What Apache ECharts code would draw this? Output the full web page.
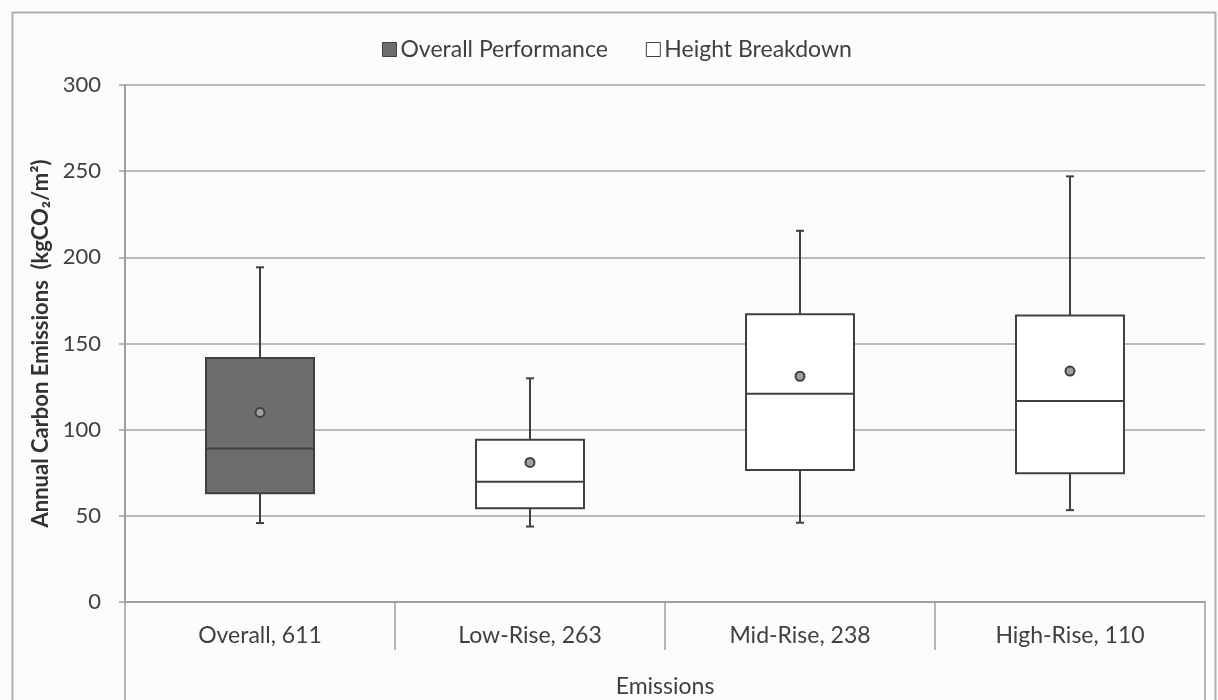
<!DOCTYPE html>
<html>
<head>
<meta charset="utf-8">
<script src="https://cdn.jsdelivr.net/npm/echarts@6/dist/echarts.min.js"></script>
<style>
  html, body { margin: 0; padding: 0; background: #fcfcfc; }
  #main { width: 1218px; height: 700px; }
</style>
</head>
<body>
<div id="main"></div>
<script>
// categories and box statistics: [min, Q1, median, Q3, max]
const categories = ["Overall, 611", "Low-Rise, 263", "Mid-Rise, 238", "High-Rise, 110"];
const overallBox = [[0, 45.8, 63.1, 89, 141.6, 194.2]];
const heightBox = [
  [1, 43.8, 54.4, 69.8, 94.2, 129.8],
  [2, 46, 76.6, 120.8, 167, 215.4],
  [3, 53.3, 74.7, 116.6, 166.2, 247]
];
const means = [110, 81, 131, 134];
const yTicks = [0, 50, 100, 150, 200, 250, 300];

const font = "Lato";
const ink = "#404040";

var chart = echarts.init(document.getElementById("main"));

// draws box, median, whiskers and short caps through the axis scales
function renderBox(params, api) {
  var x = api.value(0);
  var lo = api.coord([x, api.value(1)]);
  var q1 = api.coord([x, api.value(2)]);
  var med = api.coord([x, api.value(3)]);
  var q3 = api.coord([x, api.value(4)]);
  var hi = api.coord([x, api.value(5)]);
  var w = api.size([1, 0])[0] * 0.4;
  var cx = lo[0];
  var cap = 4;
  var fill = params.seriesIndex === 0 ? "#6d6d6d" : "#ffffff";
  var line = { stroke: ink, lineWidth: 2 };
  return {
    type: "group",
    children: [
      { type: "line", shape: { x1: cx, y1: q3[1], x2: cx, y2: hi[1] }, style: line },
      { type: "line", shape: { x1: cx, y1: q1[1], x2: cx, y2: lo[1] }, style: line },
      { type: "line", shape: { x1: cx - cap, y1: hi[1], x2: cx + cap, y2: hi[1] }, style: line },
      { type: "line", shape: { x1: cx - cap, y1: lo[1], x2: cx + cap, y2: lo[1] }, style: line },
      { type: "rect", shape: { x: cx - w / 2, y: q3[1], width: w, height: q1[1] - q3[1] },
        style: { fill: fill, stroke: ink, lineWidth: 2 } },
      { type: "line", shape: { x1: cx - w / 2, y1: med[1], x2: cx + w / 2, y2: med[1] }, style: line }
    ]
  };
}

var option = {
  backgroundColor: "#fcfcfc",
  animation: false,
  textStyle: { fontFamily: font },
  graphic: [
    { type: "rect", left: 10, top: 10, shape: { width: 1203, height: 720 },
      style: { fill: null, stroke: "#b0b0b0", lineWidth: 2 }, silent: true }
  ],
  legend: {
    left: 377,
    top: 33,
    itemWidth: 14,
    itemHeight: 14,
    itemGap: 38,
    textStyle: { fontFamily: font, fontSize: 23, color: ink, padding: [0, 0, 0, -1] },
    data: [
      { name: "Overall Performance", icon: "rect",
        itemStyle: { color: "#6d6d6d", borderColor: ink, borderWidth: 1 } },
      { name: "Height Breakdown", icon: "rect",
        itemStyle: { color: "#ffffff", borderColor: ink, borderWidth: 1 } }
    ]
  },
  grid: { left: 125, right: 13, top: 85, bottom: 98 },
  xAxis: [
    {
      type: "category",
      data: categories,
      boundaryGap: true,
      axisLine: { lineStyle: { color: "#a0a0a0", width: 2 } },
      axisTick: { show: true, alignWithLabel: false, interval: 0, length: 48,
        lineStyle: { color: "#a0a0a0", width: 1.5 } },
      axisLabel: { fontFamily: font, fontSize: 23, color: ink, margin: 22, interval: 0 },
      splitLine: { show: false }
    },
    {
      type: "category",
      data: ["Emissions"],
      position: "bottom",
      offset: 48,
      boundaryGap: true,
      axisLine: { show: false },
      axisTick: { show: true, alignWithLabel: false, interval: 0, length: 60,
        lineStyle: { color: "#a0a0a0", width: 1.5 } },
      axisLabel: { fontFamily: font, fontSize: 23, color: ink, margin: 25 }
    }
  ],
  yAxis: {
    type: "value",
    min: yTicks[0],
    max: yTicks[yTicks.length - 1],
    interval: 50,
    name: "Annual Carbon Emissions  (kgCO\u2082/m\u00b2)",
    nameLocation: "middle",
    nameGap: 68,
    nameTextStyle: { fontFamily: font, fontSize: 22, fontWeight: "bold", color: "#333" },
    axisLine: { show: true, lineStyle: { color: "#a0a0a0", width: 2 } },
    axisTick: { show: true, length: 6, lineStyle: { color: "#a0a0a0", width: 1.5 } },
    axisLabel: { fontFamily: font, fontSize: 22, color: ink, margin: 24 },
    splitLine: { lineStyle: { color: "#a6a6a6", width: 1.5 } }
  },
  series: [
    {
      name: "Overall Performance",
      type: "custom",
      renderItem: renderBox,
      itemStyle: { color: "#6d6d6d" },
      encode: { x: 0, y: [1, 2, 3, 4, 5] },
      data: overallBox,
      z: 3
    },
    {
      name: "Height Breakdown",
      type: "custom",
      renderItem: renderBox,
      itemStyle: { color: "#ffffff" },
      encode: { x: 0, y: [1, 2, 3, 4, 5] },
      data: heightBox,
      z: 3
    },
    {
      name: "Mean",
      type: "scatter",
      symbol: "circle",
      symbolSize: 9,
      itemStyle: { color: "#a0a0a0", borderColor: ink, borderWidth: 2, opacity: 1 },
      data: means.map(function (v, i) { return [i, v]; }),
      z: 5
    }
  ]
};

chart.setOption(option);
</script>
</body>
</html>
